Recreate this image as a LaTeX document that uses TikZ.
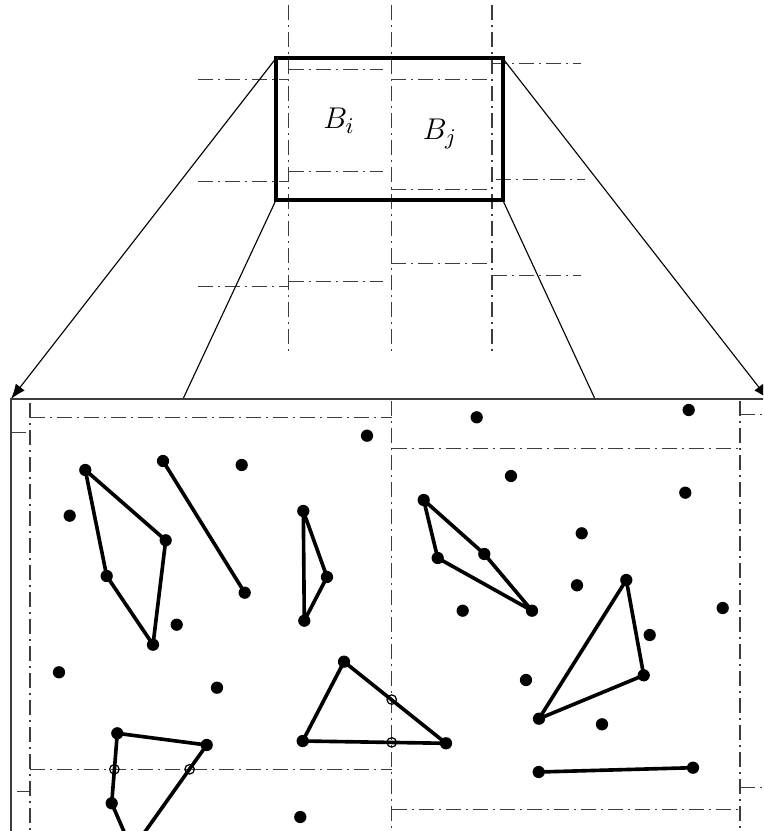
\documentclass[tikz,border=0pt]{standalone}
\usepackage{amsmath}
\usetikzlibrary{arrows.meta}
\definecolor{gridGray}{HTML}{3C3C3C}

\begin{document}
\begin{tikzpicture}[x=0.4pt, y=-0.4pt, >={Latex[length=6pt,width=4.5pt]},
    font=\fontsize{12.7}{15}\selectfont,
    grid/.style={draw=gridGray, line width=0.45pt, dash pattern=on 6pt off 2pt on 0.8pt off 2pt},
    edge/.style={line width=1.45pt, line cap=round, line join=round},
    cutpt/.style={draw=black, line width=0.5pt}]
  \useasboundingbox (0,0) rectangle (763,831);
  \clip (0,0) rectangle (763,831);

  % Top: columns of blocks, the window around B_i and B_j
  \foreach \x in {288.7, 391.3, 492} {
    \draw[grid] (\x,5) -- (\x,355);
  }
  \foreach \xa/\xb/\y in {198/288.7/79.3, 198/288.7/181.7, 198/288.7/286.7,
      288.7/383.3/69.3, 288.7/383.3/171.7, 288.7/383.3/281.7,
      391.3/486.7/79.3, 391.3/486.7/189.3, 391.3/486.7/263.3,
      492/580.7/63.3, 496/585/179.3, 492/580.7/275.3} {
    \draw[grid] (\xa,\y) -- (\xb,\y);
  }
  \coordinate (zoomNW) at (276,58.3);
  \coordinate (zoomNE) at (502.7,58.3);
  \coordinate (zoomSW) at (276,200);
  \coordinate (zoomSE) at (502.7,200);
  \draw[line width=1.6pt] (zoomNW) rectangle (zoomSE);
  \node[anchor=base] (Bi) at (339,129) {$B_i$};
  \node[anchor=base] (Bj) at (440,140) {$B_j$};

  % Projection onto the enlarged view
  \coordinate (viewNW) at (11,399);
  \coordinate (viewNE) at (768,399);
  \coordinate (footL) at (183,399);
  \coordinate (footR) at (595,399);
  \draw[->, line width=0.45pt] (zoomNW) -- (viewNW);
  \draw[->, line width=0.45pt] (zoomNE) -- (viewNE);
  \draw[line width=0.45pt] (zoomSW) -- (footL);
  \draw[line width=0.45pt] (zoomSE) -- (footR);
  \draw[draw=gridGray, line width=0.5pt] (11,845) -- (viewNW) -- (780,399);

  % Bottom: enlarged blocks
  \foreach \x/\y in {30/403, 391.7/401, 740/401} {
    \draw[grid] (\x,\y) -- (\x,831);
  }
  \foreach \xa/\xb/\y in {30/391.7/417.7, 30/391.7/769.3, 11/30/432.7, 17/30/791.7,
      391.7/740/448.3, 391.7/740/809.3, 740/763/414.3, 740/763/787.3} {
    \draw[grid] (\xa,\y) -- (\xb,\y);
  }

  % Polygons and segments
  \draw[edge] (85.3,470) -- (165.7,540.3) -- (153,644.7) -- (106.7,576) -- cycle;
  \draw[edge] (163,461) -- (244.7,592.7);
  \draw[edge] (303.3,511) -- (327,577) -- (304.3,620.7) -- cycle;
  \draw[edge] (344,661.7) -- (446,743.3) -- (302.7,741) -- cycle;
  \draw[edge] (132,850) -- (111.7,803.3) -- (117.3,733.3) -- (206.7,745) -- cycle;
  \draw[edge] (423.7,500) -- (484.3,554) -- (532,610.7) -- (437.7,558) -- cycle;
  \draw[edge] (626.3,580) -- (643.7,675.3) -- (539,718.7) -- cycle;
  \draw[edge] (538.7,772) -- (693,767.7);

  % Points
  \foreach \x/\y in {85.3/470, 165.7/540.3, 153/644.7, 106.7/576, 163/461, 244.7/592.7,
      303.3/511, 327/577, 304.3/620.7, 344/661.7, 446/743.3, 302.7/741,
      111.7/803.3, 117.3/733.3, 206.7/745,
      423.7/500, 484.3/554, 532/610.7, 437.7/558, 626.3/580, 643.7/675.3, 539/718.7,
      538.7/772, 693/767.7,
      367/435.7, 241.7/465, 69.7/515.7, 176.7/624.7, 59/672.3, 217/687.7, 300.3/817,
      476.7/417.3, 688.7/410, 511/476, 685.3/492.7, 581.7/533.3, 577/585.3,
      462.7/610.7, 722.7/608, 649.7/635, 526/680, 602/724.3} {
    \fill (\x,\y) circle[radius=2.45pt];
  }
  % Crossings with block boundaries
  \foreach \x/\y in {391.7/699.6, 391.7/742.4, 114.4/769.3, 189.6/769.3} {
    \draw[cutpt] (\x,\y) circle[radius=1.9pt];
  }
\end{tikzpicture}
\end{document}
